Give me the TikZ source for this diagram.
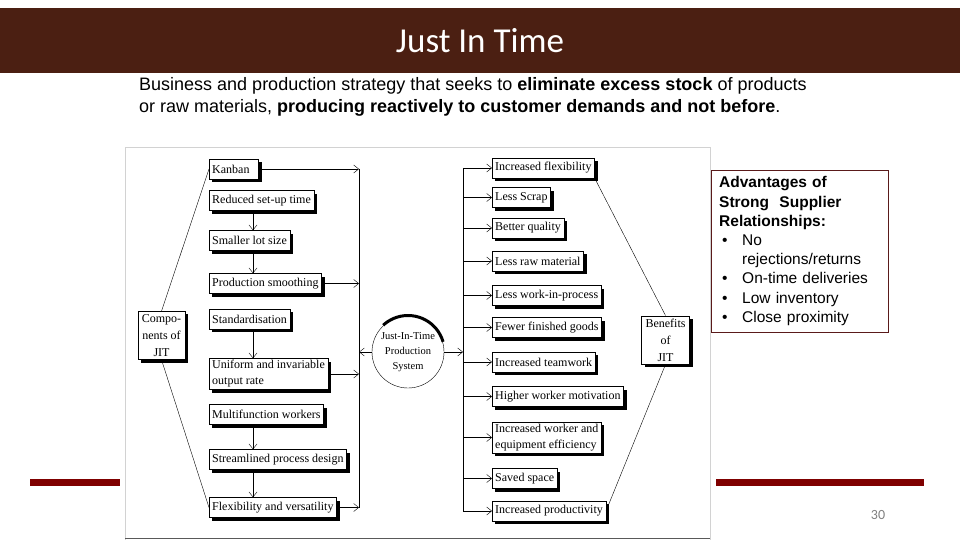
\documentclass[tikz,border=0pt]{standalone}
\usepackage{fontspec}
\setmainfont{Liberation Serif}
\newfontfamily\arialfont{Liberation Sans}
\newfontfamily\calibrifont{Carlito}
\usetikzlibrary{positioning,shadows,arrows.meta}
\definecolor{titlebrown}{HTML}{4B1F12}
\definecolor{rulered}{HTML}{7F0000}
\definecolor{boxred}{HTML}{5A1A1A}
\tikzset{
  >={Straight Barb[length=5pt,width=8pt]},
  jitbox/.style={draw, fill=white, inner xsep=3pt, inner ysep=2pt, minimum height=20pt,
    font=\fontsize{12}{16}\selectfont, align=left,
    drop shadow={shadow xshift=3pt, shadow yshift=-3pt, fill=black, opacity=1}},
  sidebox/.style={jitbox, align=center, inner xsep=4pt, inner ysep=3pt, font=\fontsize{12}{17}\selectfont},
  link/.style={->, thin},
}

\begin{document}
\begin{tikzpicture}[x=1pt, y=-1pt]
  \useasboundingbox (0,0) rectangle (960,540);
  % title bar and intro
  \fill[titlebrown] (0,8) rectangle (960,73);
  \node[text=white, font=\calibrifont\fontsize{35}{40}\selectfont] (title) at (480,41) {Just In Time};
  \node[anchor=north west, align=left, inner sep=0pt, font=\arialfont\fontsize{18}{22}\selectfont] (intro) at (139,77)
    {Business and production strategy that seeks to \textbf{eliminate excess stock} of products\\
     or raw materials, \textbf{producing reactively to customer demands and not before}.};

  % scanned figure frame
  \draw[gray!35, fill=white] (125,147) rectangle (710,540);
  \draw[gray!70!black, line width=1pt] (125,538) -- (710,538);
  \fill[rulered] (30,479) rectangle (120,486);
  \fill[rulered] (716,479) rectangle (924,486);

  % components
  \node[jitbox, anchor=west] (kanban)      at (209,169)   {Kanban\hspace{6pt}};
  \node[jitbox, anchor=west] (reduced)     at (209,200.5) {Reduced set-up time};
  \node[jitbox, anchor=west] (smaller)     at (209,240.5) {Smaller lot size};
  \node[jitbox, anchor=west] (smoothing)   at (209,283.5) {Production smoothing};
  \node[jitbox, anchor=west] (standard)    at (209,319)   {Standardisation};
  \node[jitbox, anchor=west] (uniform)     at (209,374)   {Uniform and invariable\\output rate};
  \node[jitbox, anchor=west] (multifn)     at (209,414.5) {Multifunction workers};
  \node[jitbox, anchor=west] (streamlined) at (209,459.5) {Streamlined process design};
  \node[jitbox, anchor=west] (flexver)     at (209,507.5) {Flexibility and versatility};
  \node[sidebox] (comp) at (161.5,335.5) {Compo-\\nents of\\JIT};

  % benefits
  \node[jitbox, anchor=west] (incflex)    at (492,168)   {Increased flexibility};
  \node[jitbox, anchor=west] (lessscrap)  at (492,197.5) {Less Scrap};
  \node[jitbox, anchor=west] (betterq)    at (492,228)   {Better quality};
  \node[jitbox, anchor=west] (lessraw)    at (492,261)   {Less raw material};
  \node[jitbox, anchor=west] (lesswip)    at (492,295.5) {Less work-in-process};
  \node[jitbox, anchor=west] (fewerfg)    at (492,327.5) {Fewer finished goods};
  \node[jitbox, anchor=west] (teamwork)   at (492,362)   {Increased teamwork};
  \node[jitbox, anchor=west] (motivation) at (492,396.5) {Higher worker motivation};
  \node[jitbox, anchor=west] (efficiency) at (492,437.5) {Increased worker and\\equipment efficiency};
  \node[jitbox, anchor=west] (savedspace) at (492,478.5) {Saved space};
  \node[jitbox, anchor=west] (incprod)    at (492,511)   {Increased productivity};
  \node[sidebox] (benefits) at (665.5,340) {Benefits\\of\\JIT};

  % centre
  \node[circle, draw, fill=white, minimum size=72pt, inner sep=0pt, align=center,
        font=\fontsize{10.5}{15}\selectfont] (core) at (408,352) {Just-In-Time\\Production\\System};
  \begin{scope}
    \clip (408,352) -- (360,300) -- (360,290) -- (470,290) -- (470,334) -- cycle;
    \draw[line width=3pt] (core.center) circle[radius=36.5];
  \end{scope}

  % connectors
  \coordinate (stem) at (253,0);
  \coordinate (lbus) at (359,0);
  \coordinate (rbus) at (463,0);
  \foreach \a/\b in {reduced/smaller, smaller/smoothing, standard/uniform, multifn/streamlined, streamlined/flexver}
    \draw[link] (\a.south -| stem) ++(0,3) -- (\b.north -| stem);
  \draw (kanban.east -| lbus) -- (flexver.east -| lbus);
  \foreach \b in {kanban, smoothing, uniform, flexver}
    \draw[link] (\b.east) -- (\b.east -| lbus);
  \draw[link] (core.west) -- (core.west -| lbus);
  \draw[link] (core.east) -- (core.east -| rbus);
  \draw (incflex.west -| rbus) -- (incprod.west -| rbus);
  \foreach \b in {incflex, lessscrap, betterq, lessraw, lesswip, fewerfg, teamwork, motivation, efficiency, savedspace, incprod}
    \draw[link] (\b.west -| rbus) -- (\b.west);
  \draw (comp.north) -- (kanban.west);
  \draw (comp.south) -- (flexver.west);
  \draw (incflex.south east) -- (benefits.north);
  \draw (benefits.south) -- (incprod.east);

  % supplier box and page number
  \node[draw=boxred, anchor=north west, text width=161pt, inner xsep=8pt, inner ysep=6.5pt, align=left,
        font=\arialfont\fontsize{15.5}{19.2}\selectfont] (advantages) at (711,170)
    {\textbf{Advantages of}\\
     \textbf{Strong\ \ Supplier}\\
     \textbf{Relationships:}\\
     \hspace*{3pt}\makebox[20pt][l]{\textbullet}No\\
     \hspace*{23pt}rejections/returns\\
     \hspace*{3pt}\makebox[20pt][l]{\textbullet}On-time deliveries\\
     \hspace*{3pt}\makebox[20pt][l]{\textbullet}Low inventory\\
     \hspace*{3pt}\makebox[20pt][l]{\textbullet}Close proximity};
  \node[text=gray, font=\calibrifont\fontsize{14}{16}\selectfont] (pagenum) at (878,515) {30};
\end{tikzpicture}
\end{document}
